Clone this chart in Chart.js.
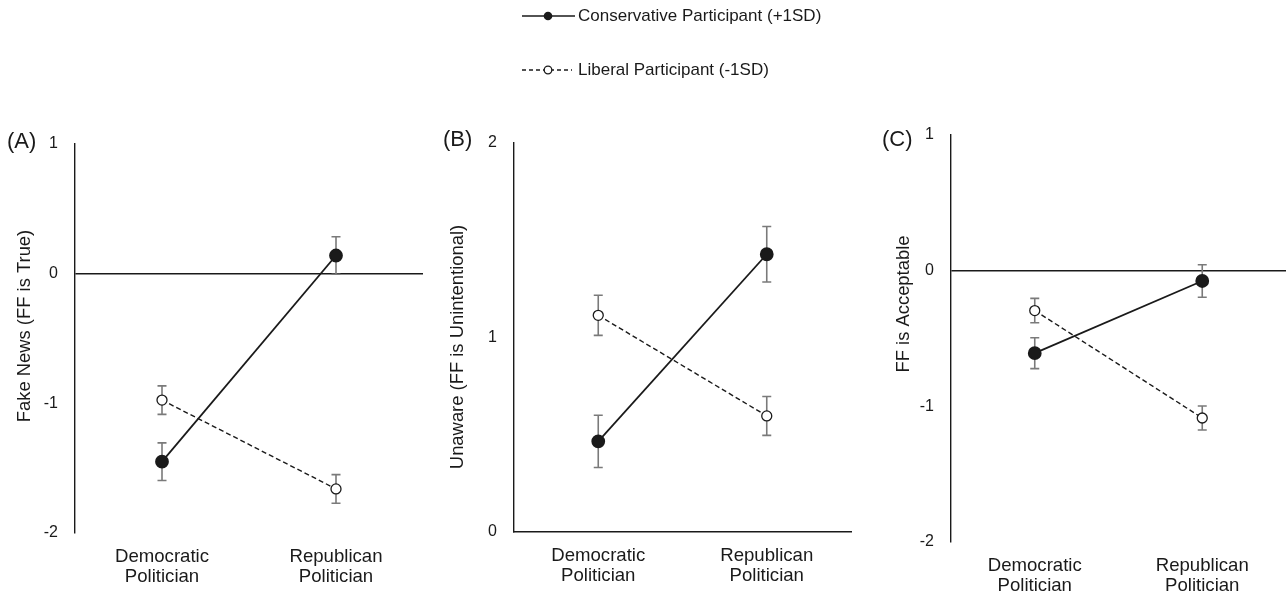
<!DOCTYPE html>
<html>
<head>
<meta charset="utf-8">
<script src="https://cdn.jsdelivr.net/npm/chart.js@4"></script>
<style>
  body { margin: 0; background: #fff; }
  #wrap { position: relative; width: 1286px; height: 595px; overflow: hidden; }
  canvas { position: absolute; left: 0; top: 0; }
</style>
</head>
<body>
<div id="wrap">
  <canvas id="chartA" width="1320" height="595"></canvas>
  <canvas id="chartB" width="1320" height="595"></canvas>
  <canvas id="chartC" width="1320" height="595"></canvas>
</div>
<script>
const categories = [["Democratic", "Politician"], ["Republican", "Politician"]];
const seriesNames = ["Conservative Participant (+1SD)", "Liberal Participant (-1SD)"];

// panel A - Fake News (FF is True)
const conservativeA = [-1.45, 0.14];
const conservativeErrA = [0.145, 0.145];
const liberalA = [-0.975, -1.66];
const liberalErrA = [0.11, 0.11];

// panel B - Unaware (FF is Unintentional)
const conservativeB = [0.466, 1.428];
const conservativeErrB = [0.134, 0.143];
const liberalB = [1.114, 0.597];
const liberalErrB = [0.103, 0.1];

// panel C - FF is Acceptable
const conservativeC = [-0.608, -0.076];
const conservativeErrC = [0.114, 0.12];
const liberalC = [-0.294, -1.086];
const liberalErrC = [0.09, 0.088];

const FONT = "'Liberation Sans', Arial, sans-serif";
const INK = "#1a1a1a";
const CANVAS_W = 1320; // a bit wider than the page, clipped by #wrap

// error bars drawn under the lines and markers
const errorBars = {
    id: "errorBars",
    beforeDatasetsDraw(chart) {
        const ctx = chart.ctx;
        const yScale = chart.scales.y;
        chart.data.datasets.forEach((ds, i) => {
            const meta = chart.getDatasetMeta(i);
            meta.data.forEach((pt, j) => {
                const v = ds.data[j];
                const e = ds.errors[j];
                const top = yScale.getPixelForValue(v + e);
                const bot = yScale.getPixelForValue(v - e);
                ctx.save();
                ctx.strokeStyle = "#7a7a7a";
                ctx.lineWidth = 1.6;
                ctx.beginPath();
                ctx.moveTo(pt.x, top); ctx.lineTo(pt.x, bot);
                ctx.moveTo(pt.x - 4.5, top); ctx.lineTo(pt.x + 4.5, top);
                ctx.moveTo(pt.x - 4.5, bot); ctx.lineTo(pt.x + 4.5, bot);
                ctx.stroke();
                ctx.restore();
            });
        });
    }
};

// panel letter + rotated y title (+ the shared legend on panel A)
const panelText = {
    id: "panelText",
    afterDraw(chart, args, opts) {
        const ctx = chart.ctx;
        ctx.save();
        ctx.fillStyle = INK;
        ctx.textBaseline = "middle";
        ctx.font = "22px " + FONT;
        ctx.textAlign = "left";
        ctx.fillText(opts.label, opts.labelX, opts.labelY);
        ctx.translate(opts.titleX, opts.titleY);
        ctx.rotate(-Math.PI / 2);
        ctx.textAlign = "center";
        ctx.font = "18.4px " + FONT;
        ctx.fillText(opts.title, 0, 0);
        ctx.restore();

        if (opts.legend) {
            ctx.save();
            ctx.strokeStyle = INK;
            ctx.fillStyle = INK;
            ctx.lineWidth = 1.6;
            ctx.beginPath();
            ctx.moveTo(522, 16); ctx.lineTo(575, 16);
            ctx.stroke();
            ctx.beginPath();
            ctx.arc(548, 16, 4.3, 0, Math.PI * 2);
            ctx.fill();
            ctx.lineWidth = 1.3;
            ctx.setLineDash([4, 3]);
            ctx.beginPath();
            ctx.moveTo(522, 70); ctx.lineTo(572, 70);
            ctx.stroke();
            ctx.setLineDash([]);
            ctx.fillStyle = "#fff";
            ctx.beginPath();
            ctx.arc(548, 70, 3.8, 0, Math.PI * 2);
            ctx.fill();
            ctx.stroke();
            ctx.fillStyle = INK;
            ctx.font = "17px " + FONT;
            ctx.textAlign = "left";
            ctx.textBaseline = "middle";
            ctx.fillText(seriesNames[0], 578, 16);
            ctx.fillText(seriesNames[1], 578, 70);
            ctx.restore();
        }
    }
};

function makePanel(id, cons, consErr, lib, libErr, yMin, yMax, area, text, showXBorder, zeroLine) {
    return new Chart(document.getElementById(id), {
        type: "line",
        data: {
            labels: categories,
            datasets: [
                {
                    label: seriesNames[0],
                    data: cons,
                    errors: consErr,
                    borderColor: INK,
                    borderWidth: 1.8,
                    pointRadius: 6,
                    pointBackgroundColor: INK,
                    pointBorderColor: INK,
                    tension: 0,
                    clip: false
                },
                {
                    label: seriesNames[1],
                    data: lib,
                    errors: libErr,
                    borderColor: INK,
                    borderWidth: 1.4,
                    borderDash: [5, 3],
                    pointRadius: 5,
                    pointBackgroundColor: "#fff",
                    pointBorderColor: INK,
                    pointBorderWidth: 1.3,
                    tension: 0,
                    clip: false
                }
            ]
        },
        options: {
            responsive: false,
            animation: false,
            events: [],
            layout: {
                padding: {
                    left: area.left - 60,
                    right: CANVAS_W - area.right,
                    top: area.top,
                    bottom: 0
                }
            },
            plugins: {
                legend: { display: false },
                tooltip: { enabled: false },
                panelText: text
            },
            scales: {
                x: {
                    offset: true,
                    grid: { display: false },
                    border: { display: showXBorder, color: INK, width: 1.4 },
                    ticks: {
                        color: INK,
                        padding: 6,
                        maxRotation: 0,
                        autoSkip: false,
                        font: { size: 18.6, family: FONT, lineHeight: 1.08 }
                    },
                    afterFit: s => { s.height = 595 - area.bottom; }
                },
                y: {
                    min: yMin,
                    max: yMax,
                    grid: {
                        display: zeroLine,
                        drawTicks: false,
                        lineWidth: 1.4,
                        color: c => (c.tick && c.tick.value === 0) ? INK : "rgba(0,0,0,0)"
                    },
                    border: { display: true, color: INK, width: 1.4 },
                    ticks: {
                        stepSize: 1,
                        padding: 17,
                        color: INK,
                        font: { size: 16, family: FONT }
                    },
                    afterFit: s => { s.width = 60; }
                }
            }
        },
        plugins: [errorBars, panelText]
    });
}

makePanel("chartA", conservativeA, conservativeErrA, liberalA, liberalErrA, -2, 1,
    { left: 75, right: 423, top: 144, bottom: 533 },
    { label: "(A)", labelX: 7, labelY: 142, title: "Fake News (FF is True)", titleX: 25, titleY: 326, legend: true },
    false, true);

makePanel("chartB", conservativeB, conservativeErrB, liberalB, liberalErrB, 0, 2,
    { left: 514, right: 851, top: 143, bottom: 532 },
    { label: "(B)", labelX: 443, labelY: 140, title: "Unaware (FF is Unintentional)", titleX: 458, titleY: 347 },
    true, false);

makePanel("chartC", conservativeC, conservativeErrC, liberalC, liberalErrC, -2, 1,
    { left: 951, right: 1286, top: 135, bottom: 542 },
    { label: "(C)", labelX: 882, labelY: 140, title: "FF is Acceptable", titleX: 904, titleY: 304 },
    false, true);
</script>
</body>
</html>
